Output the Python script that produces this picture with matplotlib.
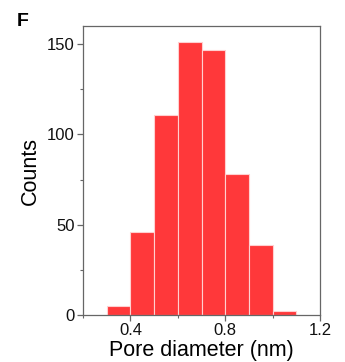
import matplotlib
matplotlib.use('Agg')
import matplotlib.pyplot as plt
from matplotlib.ticker import MultipleLocator

plt.rcParams['font.family'] = ['Liberation Sans', 'DejaVu Sans']

# histogram of pore diameters
bin_left = [0.3, 0.4, 0.5, 0.6, 0.7, 0.8, 0.9, 1.0]
counts = [5, 46, 111, 151, 147, 78, 39, 2]
bin_width = 0.1

fig = plt.figure(figsize=(3.45, 3.62), dpi=100)
ax = fig.add_axes([0.2406, 0.1298, 0.687, 0.7982])

ax.bar(bin_left, counts, width=bin_width, align='edge',
       color='#ff383a', edgecolor='#ffd0d0', linewidth=0.8)

ax.set_xlim(0.2, 1.2)
ax.set_ylim(0, 160)
ax.xaxis.set_major_locator(MultipleLocator(0.4))
ax.xaxis.set_minor_locator(MultipleLocator(0.2))
ax.yaxis.set_major_locator(MultipleLocator(50))
ax.yaxis.set_minor_locator(MultipleLocator(25))
ax.set_xticks([0.4, 0.8, 1.2])
ax.set_xticklabels(['0.4', '0.8', '1.2'])

for s in ax.spines.values():
    s.set_color('#666666')
    s.set_linewidth(0.9)
ax.tick_params(which='both', direction='out', color='#666666', labelsize=12,
               labelcolor='#111111', pad=2)
ax.tick_params(which='major', length=4, width=0.9)
ax.tick_params(which='minor', length=2.5, width=0.8)

ax.set_xlabel('Pore diameter (nm)', fontsize=15.5, labelpad=1)
ax.set_ylabel('Counts', fontsize=15.5, labelpad=4)

fig.text(0.048, 0.965, 'F', fontsize=14, fontweight='bold', va='top')

fig.savefig('out.png', dpi=100)
